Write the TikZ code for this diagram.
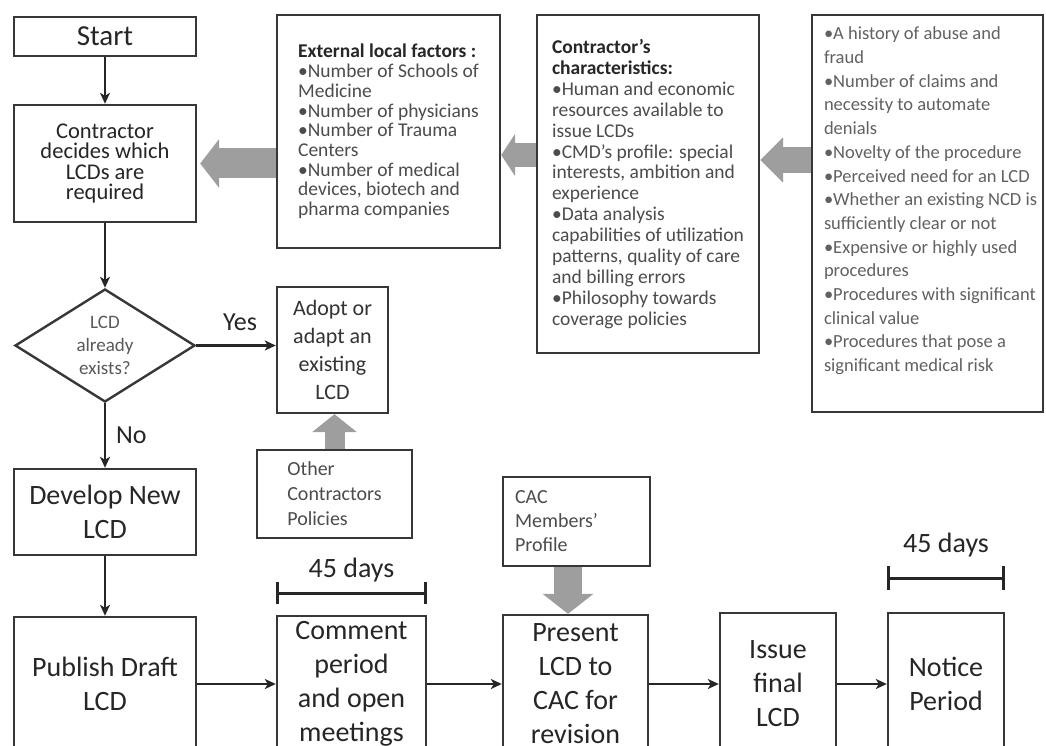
\documentclass[tikz,border=0pt]{standalone}
\usepackage{fontspec}
\setmainfont{Carlito}
\usetikzlibrary{arrows.meta,shapes.geometric,calc}
\newcommand\fsz[2]{\fontsize{#1}{#2}\selectfont}
\definecolor{gblock}{RGB}{158,158,158}
\definecolor{edge}{RGB}{55,55,55}
\begin{document}
\begin{tikzpicture}[x=1pt,y=-1pt,
  box/.style={draw=edge, line width=2.4pt, fill=white, inner sep=2pt, align=center, text=black!85},
  flow/.style={box, font=\fsz{28}{34}},
  info/.style={box, align=left, text=black!70},
  arr/.style={line width=2.2pt, draw=black!85, -{Stealth[length=11pt,width=10pt,inset=3pt]}},
  garr/.style n args={3}{draw=gblock, line width=#1, -{Triangle[length=#3,width=#2]}},
  lbl/.style={text=black!85, inner sep=0pt}
]
\useasboundingbox (0,0) rectangle (1046,746);
\clip (0,0) rectangle (1046,746);

% main flow
\node[box, font=\fsz{29}{33}, minimum width=182pt, minimum height=39pt] (start) at (105,36.5) {Start};
\node[box, font=\fsz{22.5}{20.5}, minimum width=182pt, minimum height=117pt] (contr) at (105,163.5) {Contractor\\decides which\\LCDs are\\required};
\node[diamond, draw=edge, line width=2.4pt, fill=white, aspect=1.6, inner sep=0pt, minimum width=180pt, minimum height=113pt, align=center, text=black!65, font=\fsz{19}{23}] (dec) at (105,345.5) {LCD\\already\\exists?};
\node[flow, minimum width=182pt, minimum height=86pt] (dev) at (105,512) {Develop New\\LCD};
\node[flow, minimum width=182pt, minimum height=134pt] (pub) at (105,684) {Publish Draft\\LCD};

\node[box, font=\fsz{22}{28}, text=black!80, minimum width=111pt, minimum height=126pt] (adopt) at (332.5,350) {Adopt or\\adapt an\\existing\\LCD};
\node[box, font=\fsz{20}{25}, align=left, text=black!70, minimum width=155pt, minimum height=88pt] (other) at (334.5,494) {Other\\Contractors\\Policies};
\node[box, font=\fsz{20}{24}, align=left, text=black!70, text width=123pt, minimum width=147pt, minimum height=89pt] (cac) at (576.5,521.5) {CAC\\Members'\\Profile};

\node[flow, minimum width=149pt, minimum height=136pt] (com) at (351.5,684) {Comment\\period\\and open\\meetings};
\node[flow, minimum width=145pt, minimum height=138pt] (pres) at (575.5,684) {Present\\LCD to\\CAC for\\revision};
\node[flow, minimum width=116pt, minimum height=142pt] (iss) at (778,684) {Issue\\final\\LCD};
\node[flow, minimum width=116pt, minimum height=142pt] (notice) at (946,684) {Notice\\Period};

% top information boxes
\node[info, font=\fsz{19.5}{19.7}, minimum width=223pt, minimum height=233pt] (ext) at (388.5,131.5)
 {{\bfseries\color{black!85}External local factors :}\\
  •Number of Schools of\\Medicine\\•Number of physicians\\•Number of Trauma\\Centers\\
  •Number of medical\\devices, biotech and\\pharma companies};
\node[info, font=\fsz{19.5}{20.9}, minimum width=222pt, minimum height=338pt] (char) at (648,184)
 {{\bfseries\color{black!85}Contractor's}\\{\bfseries\color{black!85}characteristics:}\\
  •Human and economic\\resources available to\\issue LCDs\\
  •CMD's profile: special\\interests, ambition and\\experience\\
  •Data analysis\\capabilities of utilization\\patterns, quality of care\\and billing errors\\
  •Philosophy towards\\coverage policies};
\node[box, minimum width=231pt, minimum height=397pt] (risk) at (927.5,213.5) {};
\node[anchor=north west, inner sep=0pt, align=left, text=black!62, font=\fsz{18.5}{23.7}] (risktext) at ($(risk.north west)+(13,13)$)
 {•A history of abuse and\\fraud\\•Number of claims and\\necessity to automate\\denials\\
  •Novelty of the procedure\\•Perceived need for an LCD\\•Whether an existing NCD is\\
  sufficiently clear or not\\•Expensive or highly used\\procedures\\
  •Procedures with significant\\clinical value\\•Procedures that pose a\\significant medical risk};

% black connectors
\draw[arr] (start) -- (contr);
\draw[arr] (contr) -- (dec);
\draw[arr] (dec.east) -- (dec.east -| adopt.west) node[lbl, font=\fsz{26}{30}, pos=0.55, above=14pt] {Yes};
\draw[arr] (dec.south) -- (dev.north) node[lbl, font=\fsz{26}{30}, midway, right=10pt] {No};
\draw[arr] (dev) -- (pub);
\draw[arr] (pub.east) -- (com.west);
\draw[arr] (com.east) -- (pres.west);
\draw[arr] (pres.east) -- (iss.west);
\draw[arr] (iss.east) -- (notice.west);

% gray block arrows
\draw[garr={30pt}{48pt}{19pt}] (ext.west |- contr.east) -- ($(contr.east)+(3,0)$);
\draw[garr={24pt}{42pt}{14pt}] (char.west |- 0,155) -- (ext.east |- 0,155);
\draw[garr={26pt}{44pt}{23pt}] (risk.west |- 0,160) -- (char.east |- 0,160);
\draw[garr={20pt}{44pt}{18pt}] (other.north) -- (other.north |- adopt.south);
\draw[garr={28pt}{50pt}{20pt}] (cac.south -| 568,0) -- (pres.north -| 568,0);

% 45 days brackets
\coordinate (b1l) at (com.north west |- 0,593);
\coordinate (b1r) at (com.north east |- 0,593);
\draw[line width=3pt, draw=black!85, {Bar[width=22pt]}-{Bar[width=22pt]}] (b1l) -- (b1r)
  node[lbl, midway, above=9pt, font=\fsz{28}{30}] {45 days};
\coordinate (b2l) at (notice.north west |- 0,578);
\coordinate (b2r) at (notice.north east |- 0,578);
\draw[line width=3pt, draw=black!85, {Bar[width=24pt]}-{Bar[width=24pt]}] (b2l) -- (b2r)
  node[lbl, midway, above=19pt, font=\fsz{28}{30}] {45 days};
\end{tikzpicture}
\end{document}
